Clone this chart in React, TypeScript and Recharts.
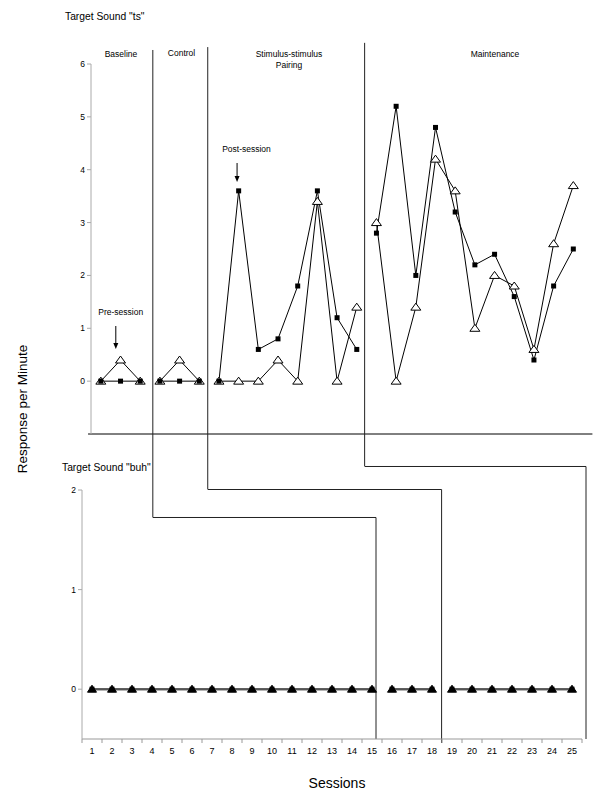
import { LineChart, Line, XAxis, YAxis, ReferenceLine } from 'recharts';

// sessions 1..25
const sessions = [1, 2, 3, 4, 5, 6, 7, 8, 9, 10, 11, 12, 13, 14, 15, 16, 17, 18, 19, 20, 21, 22, 23, 24, 25];

// Target sound "ts" (top panel)
const tsPre = [0, 0.4, 0, 0, 0.4, 0, 0, 0, 0, 0.4, 0, 3.4, 0, 1.4, 3.0, 0, 1.4, 4.2, 3.6, 1.0, 2.0, 1.8, 0.6, 2.6, 3.7];
const tsPost = [0, 0, 0, 0, 0, 0, 0, 3.6, 0.6, 0.8, 1.8, 3.6, 1.2, 0.6, 2.8, 5.2, 2.0, 4.8, 3.2, 2.2, 2.4, 1.6, 0.4, 1.8, 2.5];
const tsPhaseEnds = [3, 6, 14, 25];
const tsTicks = [0, 1, 2, 3, 4, 5, 6];

// Target sound "buh" (bottom panel)
const buhPre = [0, 0, 0, 0, 0, 0, 0, 0, 0, 0, 0, 0, 0, 0, 0, 0, 0, 0, 0, 0, 0, 0, 0, 0, 0];
const buhPost = [0, 0, 0, 0, 0, 0, 0, 0, 0, 0, 0, 0, 0, 0, 0, 0, 0, 0, 0, 0, 0, 0, 0, 0, 0];
const buhPhaseEnds = [15, 18, 25];
const buhTicks = [0, 1, 2];

const phaseNames = ['Baseline', 'Control', 'Stimulus-stimulus', 'Maintenance'];

const FONT = '"Liberation Sans", Arial, Helvetica, sans-serif';

function buildRows(pre: number[], post: number[], ends: number[]) {
  return sessions.map((s, i) => {
    const phase = ends.findIndex(e => s <= e);
    const row: { [key: string]: number | null } = { session: s };
    ends.forEach((_, k) => {
      row[`pre${k}`] = k === phase ? pre[i] : null;
      row[`post${k}`] = k === phase ? post[i] : null;
    });
    return row;
  });
}

const topData = buildRows(tsPre, tsPost, tsPhaseEnds);
const bottomData = buildRows(buhPre, buhPost, buhPhaseEnds);

const OpenTriangle = (props: any) => {
  const { cx, cy, index, value } = props;
  if (cx == null || cy == null || value == null) return <g key={`t-${index}`} />;
  return (
    <polygon key={`t-${index}`} points={`${cx},${cy - 4} ${cx - 5},${cy + 3} ${cx + 5},${cy + 3}`}
      fill="#fff" stroke="#000" strokeWidth={1} />
  );
};

const FilledTriangle = (props: any) => {
  const { cx, cy, index, value } = props;
  if (cx == null || cy == null || value == null) return <g key={`f-${index}`} />;
  return (
    <polygon key={`f-${index}`} points={`${cx},${cy - 4} ${cx - 4.5},${cy + 3} ${cx + 4.5},${cy + 3}`}
      fill="#000" stroke="#000" strokeWidth={1} />
  );
};

const Square = (props: any) => {
  const { cx, cy, index, value } = props;
  if (cx == null || cy == null || value == null) return <g key={`s-${index}`} />;
  return <rect key={`s-${index}`} x={cx - 2.5} y={cy - 2.5} width={5} height={5} fill="#000" />;
};

const Arrow = (props: any) => {
  const { x1, y1, x2, y2 } = props;
  const top = Math.min(y1, y2);
  const tip = Math.max(y1, y2);
  return (
    <g>
      <line x1={x1} y1={top} x2={x2} y2={tip - 5} stroke="#000" strokeWidth={1} />
      <polygon points={`${x2 - 2.5},${tip - 6} ${x2 + 2.5},${tip - 6} ${x2},${tip}`} fill="#000" />
    </g>
  );
};

const SessionTick = (props: any) => {
  const { x, y, payload } = props;
  const label = payload.value + 0.5;
  if (label > 25) return <g />;
  return (
    <text x={x + 10} y={y} dy="0.71em" textAnchor="middle" fontSize={9} fill="#000">
      {label}
    </text>
  );
};

const txt = (s: string, left: number, top: number, size: number, center = true): any => (
  <div style={{
    position: 'absolute', left, top, fontSize: size, lineHeight: 1, whiteSpace: 'nowrap',
    transform: center ? 'translateX(-50%)' : undefined, color: '#000',
  }}>{s}</div>
);

export default function App() {
  return (
    <div style={{ position: 'absolute', left: 0, top: 0, width: 607, height: 803, background: '#fff', fontFamily: FONT }}>
      {/* bottom panel: buh */}
      <div style={{ position: 'absolute', left: 0, top: 0 }}>
        <LineChart width={607} height={803} data={bottomData} margin={{ top: 490, right: 25, bottom: 34, left: 52 }}>
          <XAxis dataKey="session" type="number" domain={[0.5, 25.5]}
            ticks={[0.5, 1.5, 2.5, 3.5, 4.5, 5.5, 6.5, 7.5, 8.5, 9.5, 10.5, 11.5, 12.5, 13.5, 14.5, 15.5, 16.5, 17.5, 18.5, 19.5, 20.5, 21.5, 22.5, 23.5, 24.5, 25.5]}
            stroke="#999" tickSize={4} tickMargin={5} height={30} tick={<SessionTick />} interval={0} />
          <YAxis domain={[-0.5, 2]} ticks={buhTicks} width={30} stroke="#aaa" tickSize={4}
            tick={{ fontSize: 8.5, fill: '#000' }} />
          {/* phase change lines, lower part */}
          <ReferenceLine segment={[{ x: 4.05, y: 1.724 }, { x: 15.2, y: 1.724 }]} stroke="#222" ifOverflow="visible" />
          <ReferenceLine segment={[{ x: 15.2, y: 1.724 }, { x: 15.2, y: -0.5 }]} stroke="#222" ifOverflow="visible" />
          <ReferenceLine segment={[{ x: 6.8, y: 2.005 }, { x: 18.48, y: 2.005 }]} stroke="#222" ifOverflow="visible" />
          <ReferenceLine segment={[{ x: 18.48, y: 2.005 }, { x: 18.48, y: -0.54 }]} stroke="#222" ifOverflow="visible" />
          <ReferenceLine segment={[{ x: 14.65, y: 2.236 }, { x: 25.7, y: 2.236 }]} stroke="#222" ifOverflow="visible" />
          <ReferenceLine segment={[{ x: 25.7, y: 2.236 }, { x: 25.7, y: -0.5 }]} stroke="#222" ifOverflow="visible" />
          {buhPhaseEnds.map((_, k) => (
            <Line key={`bpost${k}`} dataKey={`post${k}`} stroke="#555" strokeWidth={2} dot={<Square />}
              activeDot={false} connectNulls={false} isAnimationActive={false} />
          ))}
          {buhPhaseEnds.map((_, k) => (
            <Line key={`bpre${k}`} dataKey={`pre${k}`} stroke="#555" strokeWidth={2} dot={<FilledTriangle />}
              activeDot={false} connectNulls={false} isAnimationActive={false} />
          ))}
        </LineChart>
      </div>

      {/* top panel: ts */}
      <div style={{ position: 'absolute', left: 0, top: 0 }}>
        <LineChart width={607} height={803} data={topData} margin={{ top: 64, right: 14, bottom: 369, left: 61 }}>
          <XAxis dataKey="session" type="number" domain={[0.5, 26]} height={0} tick={false} tickLine={false}
            axisLine={false} />
          <YAxis domain={[-1, 6]} ticks={tsTicks} width={30} stroke="#aaa" tickSize={4}
            tick={{ fontSize: 8.5, fill: '#000' }} />
          {/* baseline of the top panel */}
          <ReferenceLine segment={[{ x: 0.35, y: -1 }, { x: 25.97, y: -1 }]} stroke="#000" ifOverflow="visible" />
          {/* phase change lines, upper part */}
          <ReferenceLine segment={[{ x: 3.64, y: 6.265 }, { x: 3.64, y: -2.58 }]} stroke="#222" ifOverflow="visible" />
          <ReferenceLine segment={[{ x: 6.43, y: 6.32 }, { x: 6.43, y: -2.05 }]} stroke="#222" ifOverflow="visible" />
          <ReferenceLine segment={[{ x: 14.4, y: 6.4 }, { x: 14.4, y: -1.615 }]} stroke="#222" ifOverflow="visible" />
          {/* pre / post session arrows */}
          <ReferenceLine segment={[{ x: 1.76, y: 1.043 }, { x: 1.76, y: 0.608 }]} shape={<Arrow />} ifOverflow="visible" />
          <ReferenceLine segment={[{ x: 7.92, y: 4.127 }, { x: 7.92, y: 3.768 }]} shape={<Arrow />} ifOverflow="visible" />
          {tsPhaseEnds.map((_, k) => (
            <Line key={`pre${k}`} dataKey={`pre${k}`} stroke="#000" strokeWidth={1} dot={<OpenTriangle />}
              activeDot={false} connectNulls={false} isAnimationActive={false} />
          ))}
          {tsPhaseEnds.map((_, k) => (
            <Line key={`post${k}`} dataKey={`post${k}`} stroke="#000" strokeWidth={1} dot={<Square />}
              activeDot={false} connectNulls={false} isAnimationActive={false} />
          ))}
        </LineChart>
      </div>

      {txt('Target Sound "ts"', 65, 11.5, 10.3, false)}
      {txt('Target Sound "buh"', 62, 463, 10.3, false)}
      {txt(phaseNames[0], 121, 50, 8.5)}
      {txt(phaseNames[1], 181.5, 49, 8.5)}
      {txt(phaseNames[2], 289, 50, 8.5)}
      {txt('Pairing', 289, 61, 8.5)}
      {txt(phaseNames[3], 495, 50, 8.5)}
      {txt('Post-session', 246.5, 145, 8.5)}
      {txt('Pre-session', 120.7, 307.5, 8.5)}
      {txt('Sessions', 337, 776, 14)}
      <div style={{
        position: 'absolute', left: 23, top: 409, fontSize: 13.5, lineHeight: 1, whiteSpace: 'nowrap',
        transform: 'translate(-50%, -50%) rotate(-90deg)', color: '#000',
      }}>Response per Minute</div>
    </div>
  );
}
